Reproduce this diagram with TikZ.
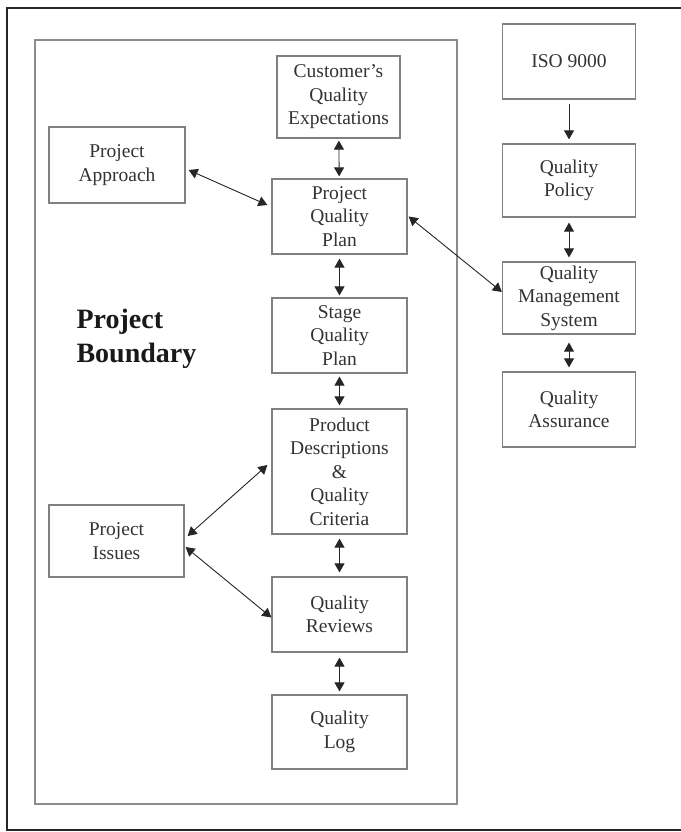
\documentclass[tikz,border=0pt]{standalone}
\usepackage{fontspec}
\setmainfont{Liberation Serif}
\usetikzlibrary{arrows.meta,calc}
\tikzset{
  qbox/.style={draw=black!50, line width=1.2pt, rectangle, align=center, inner sep=0pt,
    minimum width=135pt, minimum height=75pt, text=black!80,
    font=\fontsize{19.5pt}{23.5pt}\selectfont},
  link/.style={draw=black!85, line width=0.9pt, {Triangle[length=9pt,width=10pt]}-{Triangle[length=9pt,width=10pt]}},
  onelink/.style={draw=black!85, line width=0.9pt, -{Triangle[length=9pt,width=10pt]}},
}
\begin{document}
\begin{tikzpicture}[x=1pt,y=-1pt]
\useasboundingbox (0,0) rectangle (680,832);
\fill[white] (0,0) rectangle (680,832);
% outer frame
\draw[black!85, line width=1.5pt] (7,8) rectangle (684,830);
% project boundary
\draw[black!45, line width=1.3pt] (35,40) rectangle (457,804);
\node[anchor=west, align=left, text=black!90, font=\fontsize{28pt}{34pt}\selectfont\bfseries] (pb) at (73,339) {Project\\Boundary};

% left column boxes
\node[qbox, minimum width=123pt, minimum height=82pt] (cust) at (338.5,97) {Customer's\\Quality\\Expectations};
\node[qbox] (pqp) at (339.5,216.5) {Project\\Quality\\Plan};
\node[qbox] (sqp) at (339.5,335.5) {Stage\\Quality\\Plan};
\node[qbox, minimum height=125pt] (prod) at (339.5,471.5) {Product\\Descriptions\\\&\\Quality\\Criteria};
\node[qbox] (rev) at (339.5,614.5) {Quality\\Reviews};
\node[qbox, minimum height=74pt] (log) at (339.5,732) {Quality\\Log};
\node[qbox, minimum width=136pt, minimum height=76pt] (appr) at (117,165) {Project\\Approach};
\node[qbox, minimum height=72pt] (iss) at (116.5,541) {Project\\Issues};

% right column
\node[qbox, minimum width=133pt] (iso) at (569,61.5) {ISO 9000};
\node[qbox, minimum width=133pt, minimum height=73pt] (pol) at (569,180.5) {Quality\\Policy};
\node[qbox, minimum width=133pt, minimum height=72pt] (qms) at (569,298) {Quality\\Management\\System};
\node[qbox, minimum width=133pt] (qa) at (569,409.5) {Quality\\Assurance};

% vertical connectors
\draw[link, shorten <=2pt, shorten >=2pt] (cust) -- (pqp);
\draw[link, shorten <=4pt, shorten >=2pt] (pqp) -- (sqp);
\draw[link, shorten <=3pt, shorten >=3pt] (sqp) -- (prod);
\draw[link, shorten <=4pt, shorten >=4pt] (prod) -- (rev);
\draw[link, shorten <=5pt, shorten >=3pt] (rev) -- (log);
\draw[onelink, shorten <=4pt, shorten >=4pt] (iso) -- (pol);
\draw[link, shorten <=5pt, shorten >=4pt] (pol) -- (qms);
\draw[link, shorten <=8pt, shorten >=4pt] (qms) -- (qa);

% diagonal connectors
\draw[link] ($(appr.east)+(3,5)$) -- ($(pqp.west)+(-4,-11.5)$);
\draw[link] ($(pqp.east)+(1,0)$) -- ($(qms.west)+(0,-6)$);
\draw[link] ($(iss.east)+(3,-5)$) -- ($(prod.west)+(-4,-6.5)$);
\draw[link] ($(iss.east)+(1,6)$) -- ($(rev.west)+(0,3)$);
\end{tikzpicture}
\end{document}
